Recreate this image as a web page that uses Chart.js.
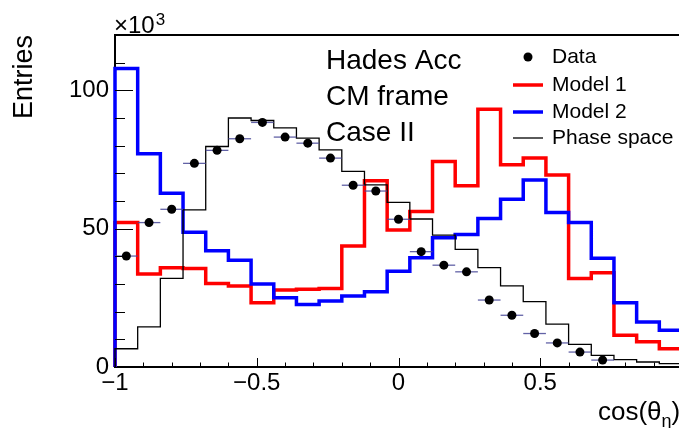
<!DOCTYPE html>
<html><head><meta charset="utf-8">
<script src="https://cdn.jsdelivr.net/npm/chart.js@4/dist/chart.umd.min.js"></script>
<style>
html,body{margin:0;padding:0;background:#fff;overflow:hidden}
#wrap{position:relative;width:679px;height:428px;overflow:hidden;background:#fff}
canvas{display:block}
</style></head><body>
<div id="wrap"><canvas id="c" width="700" height="428"></canvas></div>
<script>
// ---- data (values in units of 10^3 entries) ----
const binCenters = [-0.96,-0.88,-0.80,-0.72,-0.64,-0.56,-0.48,-0.40,-0.32,-0.24,-0.16,-0.08,0.00,0.08,0.16,0.24,0.32,0.40,0.48,0.56,0.64,0.72,0.80,0.88,0.96];
const binWidth = 0.08;
const dataValues      = [40.1,52.2,57.0,73.6,78.3,82.5,88.4,83.1,80.9,75.5,65.7,63.6,53.4,41.7,36.8,34.4,24.2,18.7,12.1,8.7,5.4,2.5,null,null,null];
const model1Values    = [52.2,33.6,35.9,35.6,30.2,29.3,23.2,27.8,28.1,28.4,43.7,67.3,49.5,56.2,74.3,65.5,93.2,73.1,75.5,69.4,32.0,34.1,11.5,9.1,6.6];
const model2Values    = [107.9,77.1,62.8,48.7,42.0,38.6,30.0,25.0,22.6,23.9,25.7,27.2,34.6,39.5,46.7,47.9,53.7,60.6,67.6,55.8,52.2,39.3,23.2,16.3,13.3];
const phaseSpaceValues= [6.6,14.5,32.0,56.8,79.7,90.0,89.1,86.4,82.7,78.5,70.7,65.8,59.5,53.5,47.7,42.5,35.9,29.3,23.6,15.5,8.2,4.2,2.7,1.8,1.2];
const xMajorTicks = [-1,-0.5,0,0.5];
const xMinorTicks = [-0.9,-0.8,-0.7,-0.6,-0.4,-0.3,-0.2,-0.1,0.1,0.2,0.3,0.4,0.6,0.7,0.8,0.9];
const yMajorTicks = [0,50,100];
const yMinorTicks = [10,20,30,40,60,70,80,90,110];
const legendLabels = ['Data','Model 1','Model 2','Phase space'];
const infoLines = ['Hades Acc','CM frame','Case II'];

const FONT = '"Liberation Sans", Arial, Helvetica, sans-serif';

function histPoints(vals){
  const pts=[{x:binCenters[0]-binWidth/2,y:0}];
  vals.forEach((v,i)=>pts.push({x:binCenters[i]-binWidth/2,y:v}));
  const last=binCenters[binCenters.length-1]+binWidth/2;
  pts.push({x:last,y:vals[vals.length-1]});
  pts.push({x:last,y:0});
  return pts;
}
const dataPoints = binCenters.map((x,i)=>({x:x,y:dataValues[i]})).filter(p=>p.y!==null);
function fmt(v){ return v<0 ? '\u2212'+Math.abs(v) : String(v); }

const deco = {
  id:'deco',
  beforeDatasetDraw(chart,args){
    if(args.index!==0) return;
    const ctx=chart.ctx, xs=chart.scales.x, ys=chart.scales.y;
    ctx.save();
    ctx.strokeStyle='rgba(70,70,150,0.85)';
    ctx.lineWidth=1.3;
    dataPoints.forEach(p=>{
      const y=ys.getPixelForValue(p.y);
      ctx.beginPath();
      ctx.moveTo(xs.getPixelForValue(p.x-binWidth/2),y);
      ctx.lineTo(xs.getPixelForValue(p.x+binWidth/2),y);
      ctx.stroke();
    });
    ctx.restore();
  },
  afterDraw(chart){
    const ctx=chart.ctx, xs=chart.scales.x, ys=chart.scales.y, a=chart.chartArea;
    ctx.save();
    // top frame line
    ctx.strokeStyle='#000'; ctx.lineWidth=2;
    ctx.beginPath(); ctx.moveTo(a.left-1,a.top); ctx.lineTo(a.right+5,a.top); ctx.stroke();
    // ticks
    ctx.lineWidth=1;
    xMajorTicks.forEach(v=>{const x=Math.round(xs.getPixelForValue(v))+0.5; ctx.beginPath(); ctx.moveTo(x,a.bottom); ctx.lineTo(x,a.bottom-9); ctx.stroke();});
    xMinorTicks.forEach(v=>{const x=Math.round(xs.getPixelForValue(v))+0.5; ctx.beginPath(); ctx.moveTo(x,a.bottom); ctx.lineTo(x,a.bottom-4.5); ctx.stroke();});
    yMajorTicks.forEach(v=>{const y=Math.round(ys.getPixelForValue(v))+0.5; ctx.beginPath(); ctx.moveTo(a.left,y); ctx.lineTo(a.left+18,y); ctx.stroke();});
    yMinorTicks.forEach(v=>{const y=Math.round(ys.getPixelForValue(v))+0.5; ctx.beginPath(); ctx.moveTo(a.left,y); ctx.lineTo(a.left+10,y); ctx.stroke();});
    ctx.fillStyle='#000';
    // x10^3
    ctx.textBaseline='alphabetic'; ctx.textAlign='left';
    ctx.font='24px '+FONT;
    ctx.fillText('\u00d710',114,33);
    const w10=ctx.measureText('\u00d710').width;
    ctx.font='17px '+FONT;
    ctx.fillText('3',114+w10+1,25);
    // y title
    ctx.save();
    ctx.translate(32,a.top);
    ctx.rotate(-Math.PI/2);
    ctx.font='27px '+FONT; ctx.textAlign='right'; ctx.textBaseline='alphabetic';
    ctx.fillText('Entries',0,0);
    ctx.restore();
    // info text
    ctx.font='28px '+FONT; ctx.textAlign='left'; ctx.textBaseline='alphabetic';
    infoLines.forEach((t,i)=>ctx.fillText(t,326,69+36*i));
    // legend
    const ly=[57,85,112,138];
    ctx.font='21px '+FONT; ctx.textBaseline='middle';
    legendLabels.forEach((t,i)=>ctx.fillText(t,552,ly[i]));
    ctx.beginPath(); ctx.arc(528,ly[0],4.5,0,Math.PI*2); ctx.fill();
    const lc=[['#ff0000',3.5],['#0000ff',3.5],['#000000',1.3]];
    lc.forEach((c,i)=>{ctx.strokeStyle=c[0]; ctx.lineWidth=c[1]; ctx.beginPath(); ctx.moveTo(513,ly[i+1]); ctx.lineTo(543,ly[i+1]); ctx.stroke();});
    // x title
    ctx.textBaseline='alphabetic';
    ctx.font='26px '+FONT;
    ctx.fillText('cos(\u03b8',598,420);
    const wc=ctx.measureText('cos(\u03b8').width;
    ctx.font='18px '+FONT;
    ctx.fillText('\u03b7',598+wc,427);
    const we=ctx.measureText('\u03b7').width;
    ctx.font='26px '+FONT;
    ctx.fillText(')',598+wc+we,420);
    ctx.restore();
  }
};

new Chart(document.getElementById('c'),{
  type:'line',
  data:{datasets:[
    {label:'Data',data:dataPoints,showLine:false,pointRadius:4.5,pointHoverRadius:4.5,pointBackgroundColor:'#000',pointBorderWidth:0,borderColor:'#000'},
    {label:'Phase space',data:histPoints(phaseSpaceValues),stepped:'before',borderColor:'#000',borderWidth:1.3,pointRadius:0,fill:false,clip:false},
    {label:'Model 2',data:histPoints(model2Values),stepped:'before',borderColor:'#0000ff',borderWidth:3.5,pointRadius:0,fill:false,clip:false},
    {label:'Model 1',data:histPoints(model1Values),stepped:'before',borderColor:'#ff0000',borderWidth:3.5,pointRadius:0,fill:false,clip:false}
  ]},
  options:{
    responsive:false, animation:false, devicePixelRatio:1,
    layout:{padding:{top:35,right:18,left:0,bottom:0}},
    plugins:{legend:{display:false},tooltip:{enabled:false}},
    scales:{
      x:{type:'linear',min:-1,max:1,
        grid:{display:false,drawTicks:false},
        border:{display:true,color:'#000',width:2},
        afterBuildTicks:s=>{s.ticks=xMajorTicks.map(v=>({value:v}));},
        afterFit:s=>{s.height=61;},
        ticks:{font:{family:FONT,size:24},color:'#000',padding:2,maxRotation:0,autoSkip:false,callback:v=>fmt(v)}},
      y:{type:'linear',min:0,max:120,
        grid:{display:false,drawTicks:false},
        border:{display:true,color:'#000',width:2},
        afterBuildTicks:s=>{s.ticks=yMajorTicks.map(v=>({value:v}));},
        afterFit:s=>{s.width=115;},
        ticks:{font:{family:FONT,size:24},color:'#000',padding:6,callback:v=>String(v)}}
    }
  },
  plugins:[deco]
});
</script>
</body></html>
